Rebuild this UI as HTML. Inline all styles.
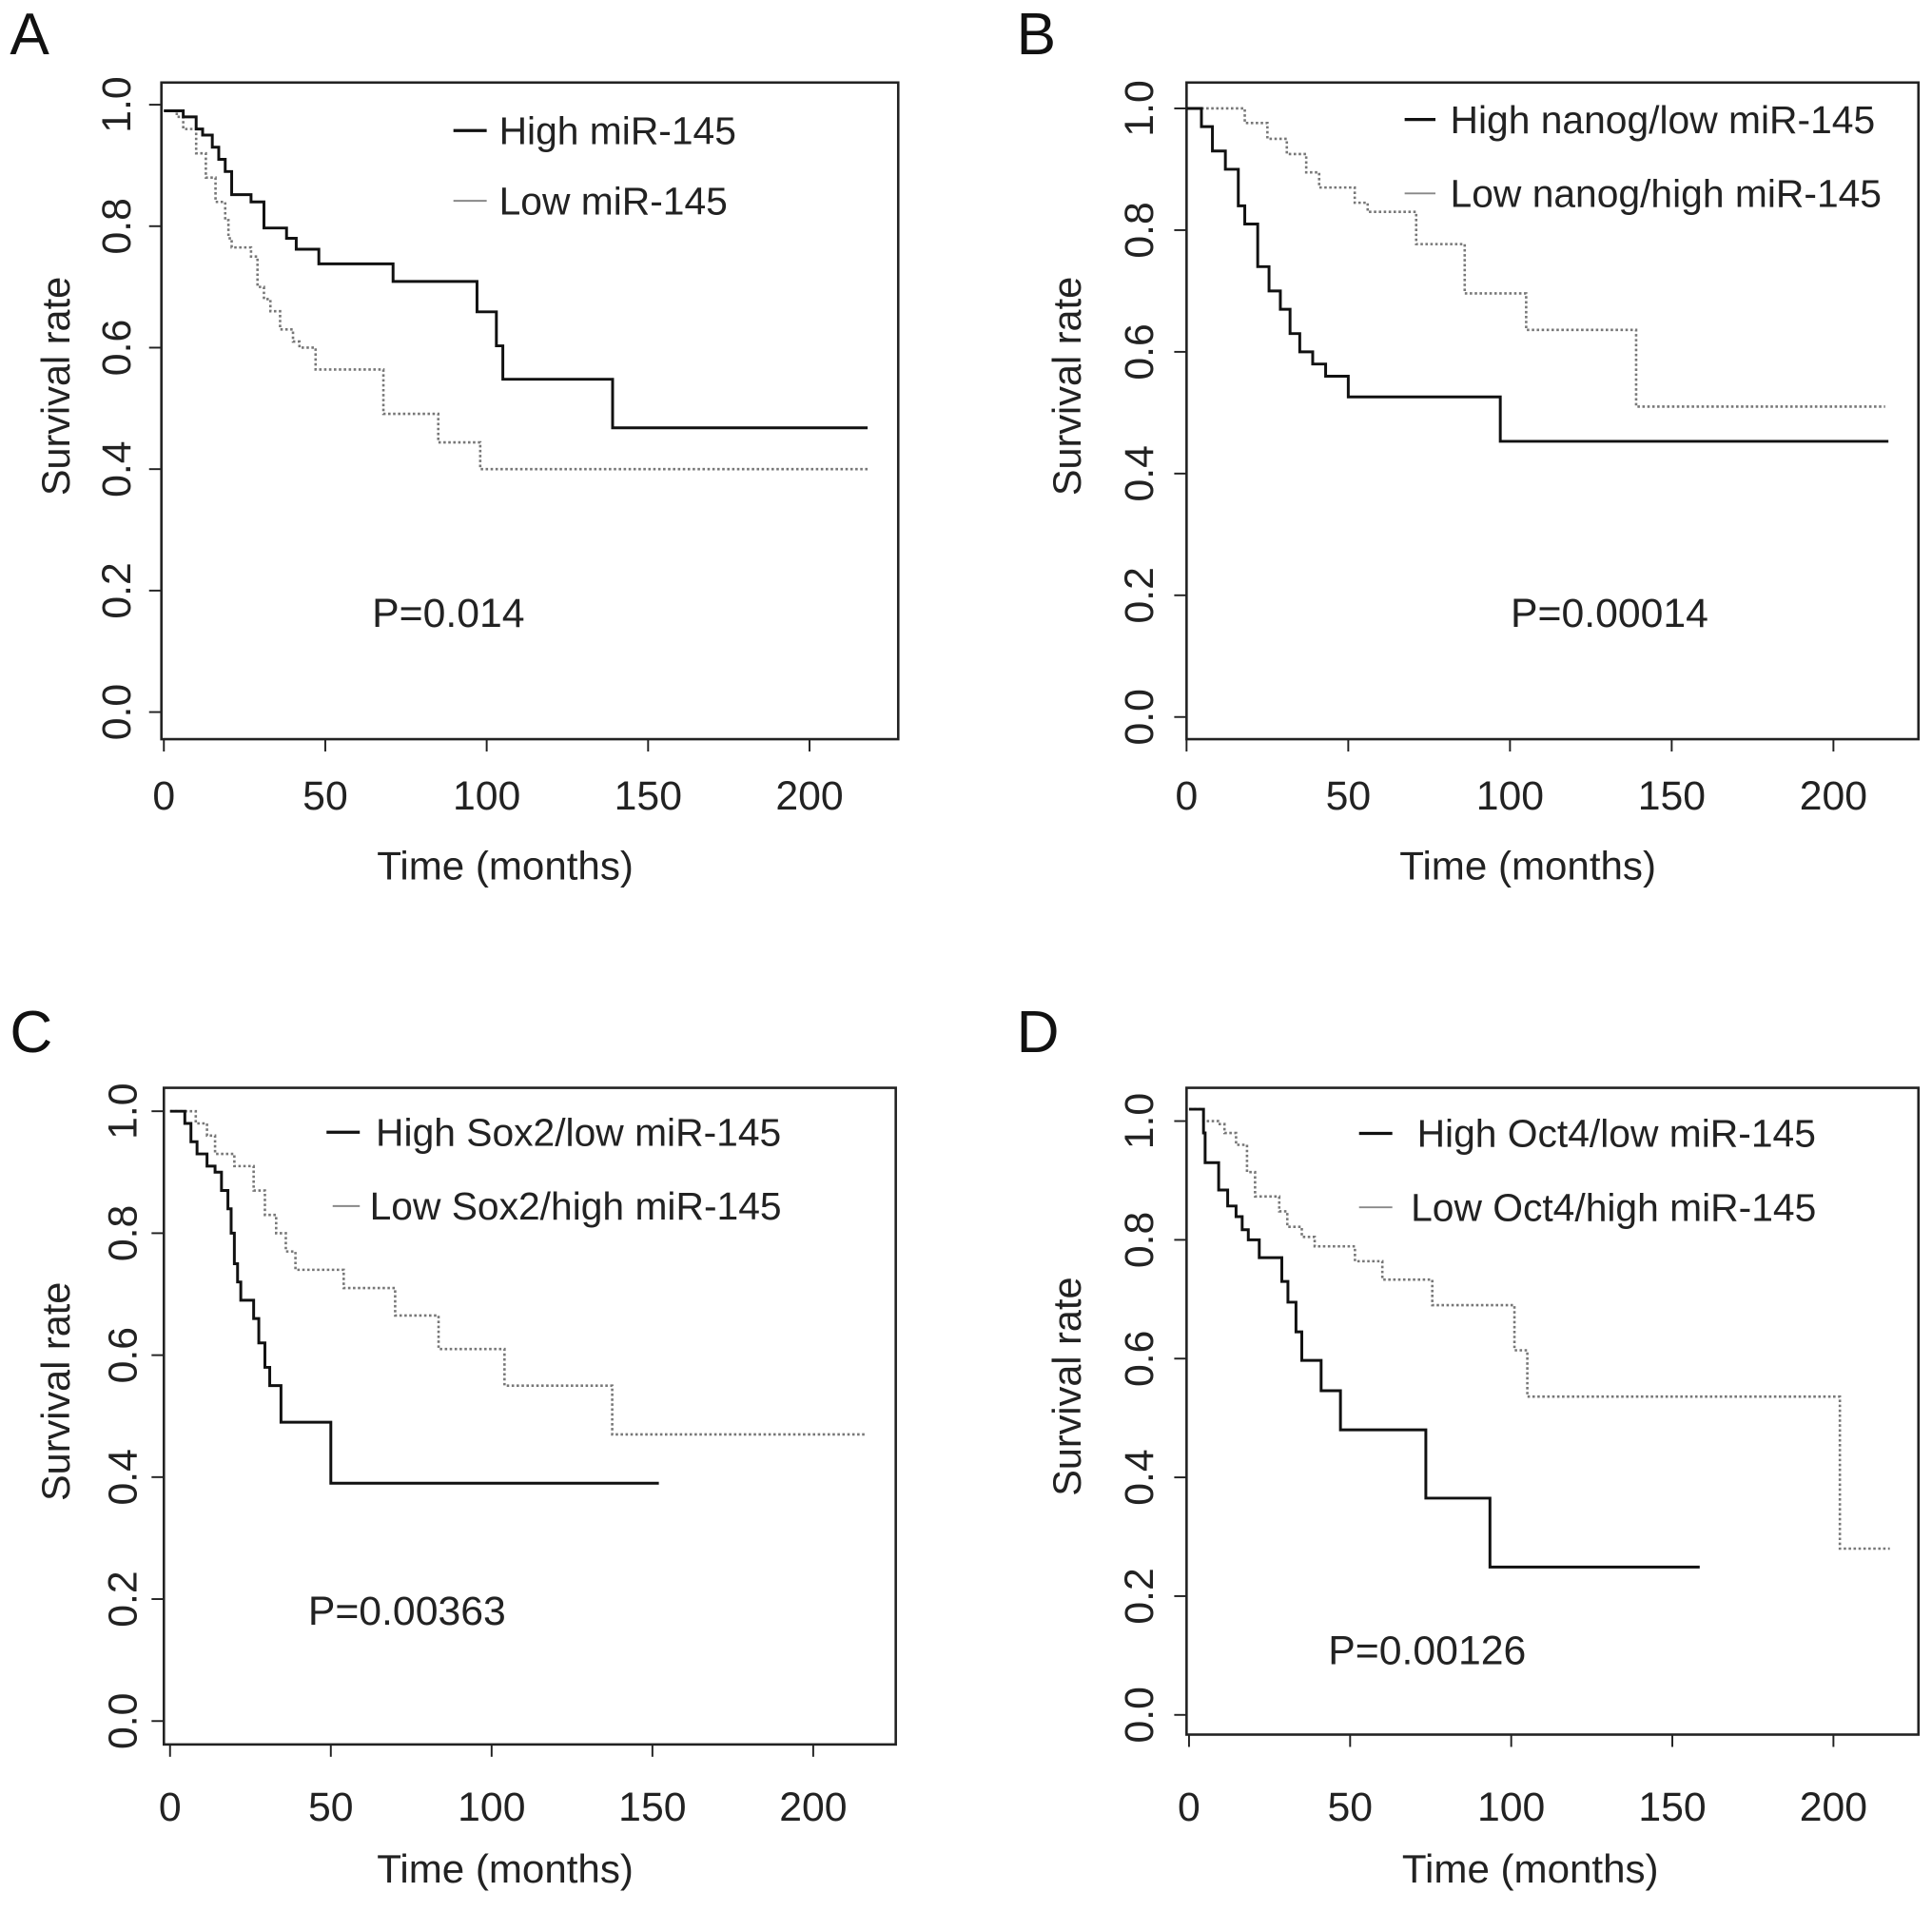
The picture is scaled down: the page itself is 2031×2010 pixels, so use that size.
<!DOCTYPE html>
<html><head><meta charset="utf-8"><style>
html,body{margin:0;padding:0;background:#fff;}
svg{display:block;font-family:"Liberation Sans",Arial,sans-serif;}
</style></head><body>
<svg id="fig" width="2031" height="2010" viewBox="0 0 1568 1552" preserveAspectRatio="none" xmlns="http://www.w3.org/2000/svg"></svg>
<script>
// Panel A data
const aHighT=[0,6,10,12,15,17,19,21,27,31,38,41,48,71,97,103,105,139,218];
const aHighS=[0.99,0.98,0.96,0.95,0.93,0.91,0.89,0.852,0.84,0.797,0.78,0.762,0.738,0.709,0.659,0.603,0.548,0.468,0.468];
const aLowT=[0,4,6,10,13,16,19,20,21,27,29,31,33,36,40,42,47,68,85,98,218];
const aLowS=[0.99,0.98,0.96,0.92,0.88,0.84,0.81,0.78,0.765,0.75,0.70,0.68,0.66,0.63,0.61,0.60,0.564,0.491,0.444,0.40,0.40];
// Panel B data
const bHighT=[0,4.6,8,12,16,18,22,25.5,29,32,35,39,43,50,97,217];
const bHighS=[1.0,0.97,0.93,0.90,0.84,0.81,0.74,0.70,0.67,0.63,0.60,0.58,0.56,0.526,0.453,0.453];
const bLowT=[0,18,25,31,37,41,52,56,71,86,105,139,216];
const bLowS=[1.0,0.976,0.95,0.925,0.895,0.87,0.845,0.83,0.777,0.696,0.636,0.51,0.51];
// Panel C data
const cHighT=[0,4.6,6.5,8.4,11.5,14,16,18,19,20,21,22,26,27.6,29.5,31,34.5,50,152];
const cHighS=[1.0,0.98,0.95,0.93,0.91,0.90,0.87,0.84,0.80,0.75,0.72,0.69,0.66,0.62,0.58,0.55,0.49,0.39,0.39];
const cLowT=[0,8,11.5,14,20,26,29.5,33,36,39,54,70,83.5,104,137.5,216.5];
const cLowS=[1.0,0.98,0.96,0.93,0.91,0.87,0.83,0.80,0.77,0.74,0.71,0.665,0.61,0.55,0.47,0.47];
// Panel D data
const dHighT=[0,4.5,5,9.2,12,14.6,16.5,18.4,21.8,28.8,30.7,33.2,35,41,47,73.5,93.4,158.5];
const dHighS=[1.02,0.98,0.93,0.884,0.857,0.839,0.817,0.80,0.77,0.73,0.695,0.645,0.597,0.546,0.48,0.365,0.249,0.249];
const dLowT=[0,4.5,9,11,14.6,18,20.5,28,30.5,35,39,51.5,60,75.5,101,105,202,217.5];
const dLowS=[1.02,1.0,0.995,0.98,0.96,0.914,0.873,0.848,0.822,0.805,0.789,0.764,0.733,0.69,0.614,0.536,0.28,0.28];
const xTicks=[0,50,100,150,200];
const yTicks=[0,0.2,0.4,0.6,0.8,1.0];
const yTickLabels=["0.0","0.2","0.4","0.6","0.8","1.0"];

const NS="http://www.w3.org/2000/svg";
const svg=document.getElementById('fig');
function mk(tag,attrs,parent){const e=document.createElementNS(NS,tag);for(const k in attrs)e.setAttribute(k,attrs[k]);(parent||svg).appendChild(e);return e;}

const panels=[
 {id:'a',letter:'A',lx:8,ly:42,box:[131,67,729,600],x0:133,x200:657,y1:85,y0:578,
  hi:[aHighT,aHighS],lo:[aLowT,aLowS],leg:[[368,395,106,405,"High miR-145"],[368,395,163,405,"Low miR-145"]],
  p:["P=0.014",302,508],ylabX:45,ytickX:95,xlabX:410,tickBase:657,xlabY:714},
 {id:'b',letter:'B',lx:825,ly:42,box:[963,67,1557,600],x0:963,x200:1488,y1:88,y0:582,
  hi:[bHighT,bHighS],lo:[bLowT,bLowS],leg:[[1140,1165,97,1177,"High nanog/low miR-145"],[1140,1165,157,1177,"Low nanog/high miR-145"]],
  p:["P=0.00014",1226,508],ylabX:866,ytickX:925,xlabX:1240,tickBase:657,xlabY:714},
 {id:'c',letter:'C',lx:8,ly:852,box:[133,883,727,1416],x0:138,x200:660,y1:902,y0:1397,
  hi:[cHighT,cHighS],lo:[cLowT,cLowS],leg:[[265,292,919,305,"High Sox2/low miR-145"],[270,292,979,300,"Low Sox2/high miR-145"]],
  p:["P=0.00363",250,1318],ylabX:45,ytickX:100,xlabX:410,tickBase:1478,xlabY:1528},
 {id:'d',letter:'D',lx:825,ly:852,box:[963,883,1557,1408],x0:965,x200:1488,y1:910,y0:1392,
  hi:[dHighT,dHighS],lo:[dLowT,dLowS],leg:[[1103,1130,920,1150,"High Oct4/low miR-145"],[1103,1130,980,1145,"Low Oct4/high miR-145"]],
  p:["P=0.00126",1078,1350],ylabX:866,ytickX:925,xlabX:1242,tickBase:1478,xlabY:1528}
];

panels.forEach(P=>{
  const g=mk('g',{});
  
  
  const X=t=>P.x0+(P.x200-P.x0)*t/200;
  const Y=s=>P.y0-(P.y0-P.y1)*s;
  const lt=mk('text',{x:P.lx,y:P.ly+2,'font-size':48,fill:'#111'},g);lt.textContent=P.letter;
  
  
  const b=P.box;
  const fr=mk('rect',{x:b[0],y:b[1],width:b[2]-b[0],height:b[3]-b[1],fill:'none',stroke:'#222','stroke-width':2},g);
  
  
  xTicks.forEach(t=>{
    mk('line',{x1:X(t),x2:X(t),y1:b[3],y2:b[3]+10,stroke:'#222','stroke-width':1.5},g);
    const tx=mk('text',{x:X(t),y:P.tickBase,'font-size':33,'text-anchor':'middle',fill:'#222'},g);tx.textContent=t;
    
    
  });
  yTicks.forEach((v,i)=>{
    mk('line',{x1:b[0]-10,x2:b[0],y1:Y(v),y2:Y(v),stroke:'#222','stroke-width':1.5},g);
    const tx=mk('text',{x:P.ytickX,y:Y(v),'font-size':33,'text-anchor':'middle','dominant-baseline':'central',fill:'#222',transform:`rotate(-90 ${P.ytickX} ${Y(v)})`},g);
    tx.textContent=yTickLabels[i];
    
    
  });
  const yl=mk('text',{x:P.ylabX,y:(b[1]+b[3])/2-20,'font-size':32,'text-anchor':'middle','dominant-baseline':'central',fill:'#222',transform:`rotate(-90 ${P.ylabX} ${(b[1]+b[3])/2-20})`},g);
  yl.textContent='Survival rate';
  
  
  const xl=mk('text',{x:P.xlabX,y:P.xlabY,'font-size':32.5,'text-anchor':'middle',fill:'#222'},g);
  xl.textContent='Time (months)';
  
  
  function step(T,S){let d=`M${X(T[0])},${Y(S[0])}`;for(let i=1;i<T.length;i++){d+=` H${X(T[i])} V${Y(S[i])}`;}return d;}
  const lo=mk('path',{d:step(P.lo[0],P.lo[1]),fill:'none',stroke:'#777','stroke-width':2,'stroke-dasharray':'2 2'},g);
  
  
  const hi=mk('path',{d:step(P.hi[0],P.hi[1]),fill:'none',stroke:'#111','stroke-width':2.3},g);
  
  
  P.leg.forEach((L,i)=>{
    mk('line',{x1:L[0],x2:L[1],y1:L[2],y2:L[2],stroke:i==0?'#111':'#888','stroke-width':i==0?2.5:1.5},g);
    const t=mk('text',{x:L[3],y:L[2]+11,'font-size':31.5,fill:'#222'},g);t.textContent=L[4];
    
    
  });
  const pt=mk('text',{x:P.p[1],y:P.p[2]+1,'font-size':33,fill:'#222'},g);pt.textContent=P.p[0];
  
  
});
</script>
</body></html>
